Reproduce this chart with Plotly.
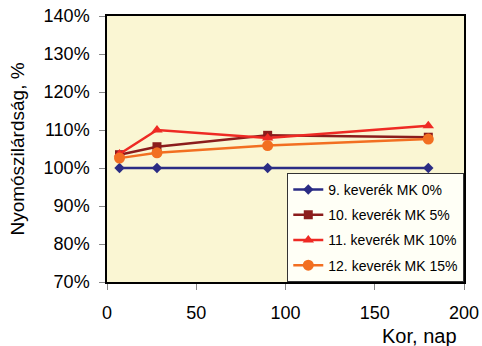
import plotly.graph_objects as go

days = [7, 28, 90, 180]
names = ["9. keverék MK 0%", "10. keverék MK 5%", "11. keverék MK 10%", "12. keverék MK 15%"]
mk0 = [1.00, 1.00, 1.00, 1.00]
mk5 = [1.035, 1.056, 1.086, 1.081]
mk10 = [1.037, 1.100, 1.079, 1.111]
mk15 = [1.026, 1.040, 1.059, 1.076]

series = [mk0, mk5, mk10, mk15]
colors = ["#2A2C84", "#8B1C1C", "#EE2A24", "#F26F21"]
symbols = ["diamond", "square", "triangle-up", "circle"]
sizes = [8, 9, 10, 11]

fig = go.Figure()
for i, (n, s, c, m, sz) in enumerate(zip(names, series, colors, symbols, sizes)):
    fig.add_trace(go.Scatter(x=days, y=s, name=n, mode="lines+markers",
                             legendgroup=f"g{i}",
                             line=dict(color=c, width=2.5),
                             marker=dict(symbol=m, size=sz, color=c)))

font = "Liberation Sans, Arial, sans-serif"
fig.update_layout(
    width=482, height=346,
    margin=dict(l=107, r=18, t=16, b=64, autoexpand=False),
    paper_bgcolor="white", plot_bgcolor="#FAF6D3",
    font=dict(family=font, size=18, color="black"),
    showlegend=True,
    legend=dict(x=0.505, y=0.41, xanchor="left", yanchor="top",
                bgcolor="#FFFFF6", bordercolor="#333333", borderwidth=1,
                font=dict(size=14), tracegroupgap=4),
    xaxis=dict(range=[0, 200], tickvals=[0, 50, 100, 150, 200],
               ticks="outside", ticklen=6, tickcolor="#888", ticklabelstandoff=8,
               showline=True, linecolor="black", linewidth=1.5, mirror=True,
               showgrid=False, zeroline=False),
    yaxis=dict(range=[0.7, 1.4], tickvals=[0.7, 0.8, 0.9, 1.0, 1.1, 1.2, 1.3, 1.4],
               tickformat=".0%", ticks="outside", ticklen=6, tickcolor="#888",
               ticklabelstandoff=6,
               showline=True, linecolor="black", linewidth=1.5, mirror=True,
               showgrid=False, zeroline=False,
               title=dict(text="Nyomószilárdság, %", font=dict(size=19), standoff=14)),
    annotations=[dict(text="Kor, nap", xref="paper", yref="paper", x=0.874, y=-0.155,
                      xanchor="center", yanchor="top", showarrow=False,
                      font=dict(size=20))],
)
fig.write_html("out.html")
